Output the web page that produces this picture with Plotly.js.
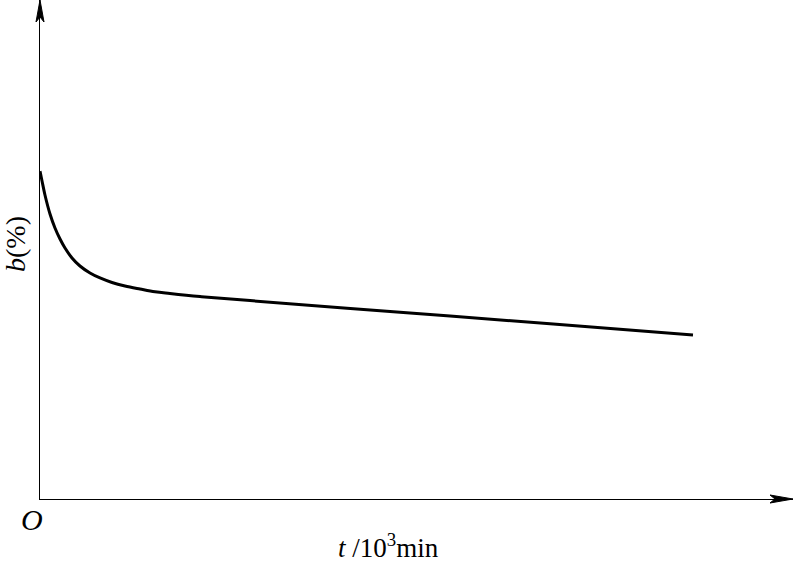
<!DOCTYPE html>
<html>
<head>
<meta charset="utf-8">
<script src="https://cdn.plot.ly/plotly-3.0.1.min.js"></script>
<style>html,body{margin:0;padding:0;background:#fff;}#chart{width:794px;height:565px;}</style>
</head>
<body>
<div id="chart"></div>
<script>
// time (10^3 min, arbitrary scale) and b (%)
const tValues = [0, 0.027, 0.066, 0.133, 0.199, 0.266, 0.332, 0.425, 0.531, 0.664, 0.797, 0.956, 1.129, 1.328, 1.527, 1.726, 2.125, 2.789, 4.781, 6.773, 8.672];
const bValues = [6.57, 6.373, 6.092, 5.711, 5.431, 5.210, 5.030, 4.830, 4.669, 4.529, 4.429, 4.339, 4.269, 4.208, 4.152, 4.118, 4.058, 3.976, 3.743, 3.511, 3.287];
const xLabel = '<i>t</i>&nbsp;/10<sup>3</sup>min';
const yLabel = '<i>b</i>(%)';
const originLabel = '<i>O</i>';

const W = 794, H = 565;
const L = 40, R = 1, T = 0, B = 66;
const pw = W - L - R, ph = H - T - B;
// pixel -> paper helpers
const px = x => (x - L) / pw;
const py = y => (H - B - y) / ph;

const trace = {
  x: tValues, y: bValues, mode: 'lines', type: 'scatter',
  line: {color: '#000', width: 3, shape: 'spline', smoothing: 1},
  hoverinfo: 'skip'
};

function arrowPath(pts) {
  return 'M' + pts.map(p => px(p[0]) + ',' + py(p[1])).join(' L') + ' Z';
}

const layout = {
  width: W, height: H,
  margin: {l: L, r: R, t: T, b: B, pad: 0},
  paper_bgcolor: '#fff', plot_bgcolor: '#fff',
  showlegend: false,
  font: {family: 'Liberation Serif, Times New Roman, serif', color: '#000'},
  xaxis: {range: [0, 10], showgrid: false, zeroline: false, showticklabels: false, ticks: '',
          showline: true, linecolor: '#000', linewidth: 1},
  yaxis: {range: [0, 10], showgrid: false, zeroline: false, showticklabels: false, ticks: '',
          showline: true, linecolor: '#000', linewidth: 1},
  shapes: [
    {type: 'path', xref: 'paper', yref: 'paper', fillcolor: '#000', line: {color: '#000', width: 1},
     path: arrowPath([[793, 499], [770, 495], [775, 499], [770, 503]])},
    {type: 'path', xref: 'paper', yref: 'paper', fillcolor: '#000', line: {color: '#000', width: 1},
     path: arrowPath([[40, 0], [36, 22], [40, 17], [44, 22]])}
  ],
  annotations: [
    {text: xLabel, xref: 'paper', yref: 'paper', x: px(388), y: py(546), xanchor: 'center', yanchor: 'middle',
     showarrow: false, font: {size: 27, family: 'Liberation Serif, serif'}},
    {text: yLabel, xref: 'paper', yref: 'paper', x: px(15), y: py(244), xanchor: 'center', yanchor: 'middle',
     textangle: -90, showarrow: false, font: {size: 28, family: 'Liberation Serif, serif'}},
    {text: originLabel, xref: 'paper', yref: 'paper', x: px(32), y: py(519), xanchor: 'center', yanchor: 'middle',
     showarrow: false, font: {size: 30, family: 'Liberation Serif, serif'}}
  ]
};

Plotly.newPlot('chart', [trace], layout, {staticPlot: true, displayModeBar: false});
</script>
</body>
</html>
